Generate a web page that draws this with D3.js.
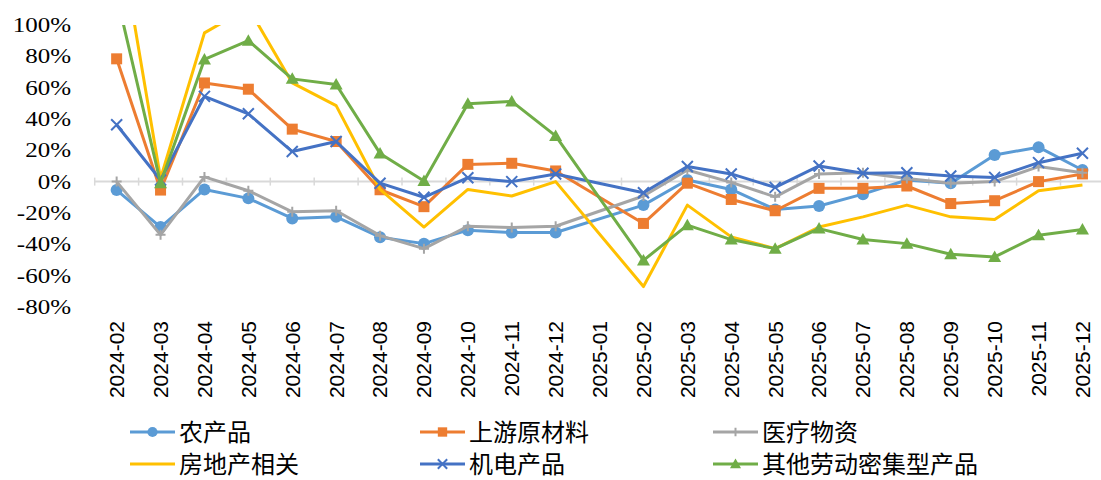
<!DOCTYPE html>
<html><head><meta charset="utf-8">
<script src="https://cdn.jsdelivr.net/npm/d3@7"></script>
<style>body{margin:0;background:#fff}svg{display:block}</style>
</head><body>
<svg id="c" width="1101" height="480"></svg>
<script>
const categories = ["2024-02","2024-03","2024-04","2024-05","2024-06","2024-07","2024-08","2024-09","2024-10","2024-11","2024-12","2025-01","2025-02","2025-03","2025-04","2025-05","2025-06","2025-07","2025-08","2025-09","2025-10","2025-11","2025-12"];
const agri       = [-5.4,-29,-5,-10.7,-23.5,-22.5,-35.5,-39.6,-31,-32.5,-32.5,null,-15,1,-5,-17.8,-15.6,-8,1,-1,17,22,7.4];
const upstream   = [78.4,-5.4,63,59,33.5,25.6,-5.2,-16,11,11.7,6.8,null,-26.7,-1,-11.4,-18.6,-4.3,-4.3,-2.8,-14,-12.2,0,4.9];
const medical    = [0,-34,3,-5.8,-19.3,-18.6,-34.5,-42.8,-28.5,-29.3,-28.5,null,-9.2,7.4,-0.5,-9.7,4.9,5.7,2,-1,0,9.6,5.7];
const realestate = [168,2,95,111,63,48.5,-5,-29,-5,-9.2,0,null,-67,-15,-35.3,-42.8,-29,-22.5,-15,-22.5,-24.2,-5.8,-2.2];
const machinery  = [36.3,1,54.4,43.3,19.2,25.6,-1,-10,2.5,0,4.9,null,-7.1,9.6,4.9,-3.7,10,5.3,5.7,3.6,2.7,12.1,18.1];
const other      = [119,-1,78,90,65.6,62,18,0.4,49.7,51.2,29.2,null,-50.3,-27.8,-37,-42.8,-30,-37,-39.6,-46.4,-48.1,-34.2,-30.6];
const seriesNames = ["农产品","上游原材料","医疗物资","房地产相关","机电产品","其他劳动密集型产品"];
const yTicks = [-80,-60,-40,-20,0,20,40,60,80,100];

const series = [
  {name:seriesNames[0], values:agri, color:"#5B9BD5", marker:"circle"},
  {name:seriesNames[1], values:upstream, color:"#ED7D31", marker:"square"},
  {name:seriesNames[2], values:medical, color:"#A5A5A5", marker:"plus"},
  {name:seriesNames[3], values:realestate, color:"#FFC000", marker:"none"},
  {name:seriesNames[4], values:machinery, color:"#4472C4", marker:"x"},
  {name:seriesNames[5], values:other, color:"#70AD47", marker:"triangle"}
];

const svg = d3.select("#c");
const x = d3.scaleBand().domain(categories).range([94.7, 94.7 + 23*43.9]);
const y = d3.scaleLinear().domain([-80,100]).range([306.9, 25]);
const cx = c => x(c) + x.bandwidth()/2;

svg.append("defs").append("clipPath").attr("id","clip")
  .append("rect").attr("x",0).attr("y",y(100)).attr("width",1101).attr("height",y(-80)-y(100)+20);

// zero axis
const axisG = svg.append("g");
axisG.append("line").attr("x1",x.range()[0]).attr("x2",x.range()[1]).attr("y1",y(0)).attr("y2",y(0))
  .attr("stroke","#D9D9D9").attr("stroke-width",2);
const bounds = categories.map(c=>x(c)).concat([x.range()[1]]);
axisG.selectAll("line.tk").data(bounds).join("line").attr("class","tk")
  .attr("x1",d=>d).attr("x2",d=>d).attr("y1",y(0)-4).attr("y2",y(0)+4)
  .attr("stroke","#D9D9D9").attr("stroke-width",1.5);

// y labels
svg.append("g").selectAll("g").data(yTicks).join("g")
  .attr("transform",d=>`translate(71,${y(d)}) scale(1.25,1)`)
  .append("text").attr("text-anchor","end").attr("dy","0.35em")
  .attr("font-family","'Liberation Serif','Times New Roman',serif").attr("font-size",20).attr("fill","#000")
  .text(d=>d+"%");

// x labels
svg.append("g").selectAll("text").data(categories).join("text")
  .attr("transform",d=>`translate(${cx(d)},321) rotate(-90)`)
  .attr("text-anchor","end").attr("dy","0.35em")
  .attr("font-family","'Liberation Sans',Arial,sans-serif").attr("font-size",21).attr("fill","#000")
  .text(d=>d);

function drawMarker(g, type, color, px, py, s){
  s = s || 1;
  if(type==="circle") g.append("circle").attr("cx",px).attr("cy",py).attr("r",6*s).attr("fill",color);
  else if(type==="square") g.append("rect").attr("x",px-5.5*s).attr("y",py-5.5*s).attr("width",11*s).attr("height",11*s).attr("fill",color);
  else if(type==="triangle") g.append("path").attr("d",`M${px},${py-6.5*s}L${px+6.5*s},${py+5*s}L${px-6.5*s},${py+5*s}Z`).attr("fill",color);
  else if(type==="x") g.append("path").attr("d",`M${px-5.5*s},${py-5.5*s}L${px+5.5*s},${py+5.5*s}M${px-5.5*s},${py+5.5*s}L${px+5.5*s},${py-5.5*s}`).attr("stroke",color).attr("stroke-width",2);
  else if(type==="plus") g.append("path").attr("d",`M${px-5*s},${py}L${px+5*s},${py}M${px},${py-5*s}L${px},${py+5*s}`).attr("stroke",color).attr("stroke-width",2);
}

const plot = svg.append("g").attr("clip-path","url(#clip)");
const line = d3.line().x(d=>cx(d.c)).y(d=>y(d.v));
series.forEach(s=>{
  const pts = categories.map((c,i)=>({c, v:s.values[i]})).filter(d=>d.v!==null);
  const g = plot.append("g");
  g.append("path").attr("d",line(pts)).attr("fill","none").attr("stroke",s.color).attr("stroke-width",3).attr("stroke-linejoin","round");
  pts.forEach(p=>drawMarker(g, s.marker, s.color, cx(p.c), y(p.v)));
});

// legend
const colX = [130, 420, 713];
const rowY = [432, 464];
const lg = svg.append("g");
series.forEach((s,i)=>{
  const lx = colX[i%3], ly = rowY[Math.floor(i/3)];
  lg.append("line").attr("x1",lx).attr("x2",lx+45).attr("y1",ly).attr("y2",ly).attr("stroke",s.color).attr("stroke-width",3);
  drawMarker(lg, s.marker, s.color, lx+22.5, ly, 0.85);
  lg.append("text").attr("x",lx+49).attr("y",ly).attr("dy","0.36em")
    .attr("font-family","'Noto Sans CJK SC',sans-serif").attr("font-size",24).attr("fill","#000").text(s.name);
});
</script>
</body></html>
